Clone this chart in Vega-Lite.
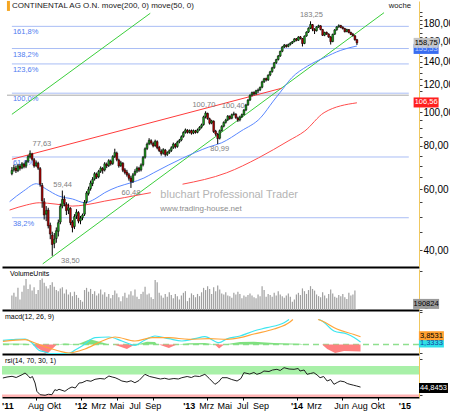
{
"$schema":"https://vega.github.io/schema/vega-lite/v6.json",
"padding":0,
"background":"#ffffff",
"spacing":2,
"bounds":"flush",
"config":{
 "font":"Liberation Sans",
 "view":{"stroke":null},
 "axisX":{"labels":false,"ticks":false,"domainColor":"#000000","domainWidth":2,"grid":false},
 "axisY":{"grid":false},
 "text":{"font":"Liberation Sans"}
},
"datasets":{
"candles":[
{"d":"2011-04-25","o":66.5,"h":69.5,"l":65.8,"c":68.0,"v":2600000},
{"d":"2011-05-02","o":68.2,"h":70.6,"l":67.4,"c":69.2,"v":3100000},
{"d":"2011-05-09","o":69.0,"h":70.2,"l":66.8,"c":67.8,"v":2400000},
{"d":"2011-05-16","o":67.9,"h":71.0,"l":67.2,"c":70.1,"v":4000000},
{"d":"2011-05-23","o":70.0,"h":70.8,"l":67.9,"c":68.9,"v":1900000},
{"d":"2011-05-30","o":69.1,"h":71.8,"l":68.5,"c":71.0,"v":3300000},
{"d":"2011-06-06","o":70.8,"h":71.5,"l":68.9,"c":69.8,"v":4400000},
{"d":"2011-06-13","o":69.9,"h":72.8,"l":69.0,"c":72.0,"v":5600000},
{"d":"2011-06-20","o":72.2,"h":75.3,"l":71.5,"c":74.5,"v":3800000},
{"d":"2011-06-27","o":74.4,"h":77.63,"l":73.6,"c":76.0,"v":4600000},
{"d":"2011-07-04","o":75.8,"h":76.4,"l":72.5,"c":73.2,"v":3500000},
{"d":"2011-07-11","o":73.0,"h":73.8,"l":69.2,"c":70.0,"v":4100000},
{"d":"2011-07-18","o":70.2,"h":72.6,"l":69.5,"c":71.5,"v":2900000},
{"d":"2011-07-25","o":71.3,"h":72.0,"l":68.2,"c":69.0,"v":3600000},
{"d":"2011-08-01","o":68.8,"h":69.5,"l":61.0,"c":62.0,"v":5400000},
{"d":"2011-08-08","o":61.5,"h":62.5,"l":53.0,"c":55.5,"v":5700000},
{"d":"2011-08-15","o":55.2,"h":56.5,"l":49.0,"c":50.5,"v":4900000},
{"d":"2011-08-22","o":50.8,"h":53.6,"l":48.5,"c":52.0,"v":4300000},
{"d":"2011-08-29","o":52.2,"h":53.0,"l":46.2,"c":47.0,"v":3900000},
{"d":"2011-09-05","o":47.2,"h":48.0,"l":43.0,"c":44.5,"v":4500000},
{"d":"2011-09-12","o":44.2,"h":45.2,"l":38.5,"c":41.5,"v":5000000},
{"d":"2011-09-19","o":41.8,"h":44.8,"l":40.5,"c":43.0,"v":4200000},
{"d":"2011-09-26","o":43.2,"h":46.5,"l":42.0,"c":45.5,"v":3600000},
{"d":"2011-10-03","o":45.3,"h":49.0,"l":43.8,"c":48.0,"v":3400000},
{"d":"2011-10-10","o":48.2,"h":54.5,"l":47.5,"c":53.5,"v":3900000},
{"d":"2011-10-17","o":53.6,"h":59.44,"l":52.8,"c":56.0,"v":4100000},
{"d":"2011-10-24","o":56.2,"h":57.5,"l":53.5,"c":54.5,"v":3000000},
{"d":"2011-10-31","o":54.3,"h":55.0,"l":50.5,"c":52.0,"v":3700000},
{"d":"2011-11-07","o":52.2,"h":54.5,"l":50.8,"c":53.0,"v":2800000},
{"d":"2011-11-14","o":52.8,"h":53.2,"l":47.2,"c":48.0,"v":3200000},
{"d":"2011-11-21","o":48.2,"h":48.8,"l":45.0,"c":46.5,"v":2500000},
{"d":"2011-11-28","o":46.8,"h":50.8,"l":46.0,"c":50.0,"v":3300000},
{"d":"2011-12-05","o":50.2,"h":52.5,"l":49.2,"c":51.5,"v":2700000},
{"d":"2011-12-12","o":51.3,"h":51.8,"l":47.8,"c":48.5,"v":2200000},
{"d":"2011-12-19","o":48.6,"h":50.2,"l":47.5,"c":49.5,"v":1800000},
{"d":"2011-12-26","o":49.6,"h":51.0,"l":48.8,"c":50.5,"v":1500000},
{"d":"2012-01-02","o":50.8,"h":55.8,"l":50.2,"c":55.0,"v":3600000},
{"d":"2012-01-09","o":55.2,"h":59.2,"l":54.5,"c":58.5,"v":4000000},
{"d":"2012-01-16","o":58.3,"h":61.0,"l":57.5,"c":60.0,"v":3300000},
{"d":"2012-01-23","o":60.2,"h":63.5,"l":59.4,"c":62.5,"v":3800000},
{"d":"2012-01-30","o":62.3,"h":65.0,"l":61.2,"c":64.0,"v":2900000},
{"d":"2012-02-06","o":64.2,"h":67.2,"l":63.5,"c":66.5,"v":3400000},
{"d":"2012-02-13","o":66.3,"h":67.0,"l":64.2,"c":65.0,"v":2600000},
{"d":"2012-02-20","o":65.2,"h":68.2,"l":64.5,"c":67.5,"v":3000000},
{"d":"2012-02-27","o":67.6,"h":69.8,"l":66.8,"c":69.0,"v":3700000},
{"d":"2012-03-05","o":68.8,"h":69.5,"l":66.5,"c":68.0,"v":2800000},
{"d":"2012-03-12","o":68.2,"h":71.8,"l":67.5,"c":71.0,"v":3200000},
{"d":"2012-03-19","o":70.8,"h":71.6,"l":69.0,"c":70.0,"v":2400000},
{"d":"2012-03-26","o":70.2,"h":73.2,"l":69.5,"c":72.5,"v":2900000},
{"d":"2012-04-02","o":72.3,"h":73.0,"l":70.2,"c":71.0,"v":2100000},
{"d":"2012-04-09","o":71.2,"h":75.2,"l":70.5,"c":74.5,"v":2700000},
{"d":"2012-04-16","o":74.6,"h":78.5,"l":73.8,"c":76.5,"v":3500000},
{"d":"2012-04-23","o":76.3,"h":77.0,"l":72.2,"c":73.0,"v":3000000},
{"d":"2012-04-30","o":72.8,"h":73.5,"l":69.2,"c":70.0,"v":2300000},
{"d":"2012-05-07","o":70.2,"h":72.4,"l":69.5,"c":71.5,"v":1600000},
{"d":"2012-05-14","o":71.3,"h":71.8,"l":67.2,"c":68.0,"v":2500000},
{"d":"2012-05-21","o":68.2,"h":69.0,"l":66.2,"c":67.0,"v":3100000},
{"d":"2012-05-28","o":67.2,"h":68.2,"l":65.2,"c":66.0,"v":2200000},
{"d":"2012-06-04","o":66.0,"h":66.8,"l":63.5,"c":64.5,"v":2800000},
{"d":"2012-06-11","o":64.6,"h":65.5,"l":60.48,"c":63.0,"v":3400000},
{"d":"2012-06-18","o":63.2,"h":66.8,"l":62.5,"c":66.0,"v":2600000},
{"d":"2012-06-25","o":66.2,"h":68.5,"l":65.5,"c":67.5,"v":3700000},
{"d":"2012-07-02","o":67.6,"h":69.8,"l":66.8,"c":69.0,"v":2400000},
{"d":"2012-07-09","o":69.0,"h":69.6,"l":67.2,"c":68.0,"v":2000000},
{"d":"2012-07-16","o":68.2,"h":71.2,"l":67.5,"c":70.5,"v":2900000},
{"d":"2012-07-23","o":70.6,"h":74.8,"l":69.8,"c":74.0,"v":3300000},
{"d":"2012-07-30","o":74.2,"h":79.2,"l":73.5,"c":78.5,"v":4200000},
{"d":"2012-08-06","o":78.6,"h":81.8,"l":77.8,"c":81.0,"v":2800000},
{"d":"2012-08-13","o":81.2,"h":84.2,"l":80.4,"c":83.0,"v":3000000},
{"d":"2012-08-20","o":82.8,"h":83.6,"l":80.6,"c":81.5,"v":2300000},
{"d":"2012-08-27","o":81.3,"h":82.2,"l":79.2,"c":80.0,"v":2000000},
{"d":"2012-09-03","o":80.2,"h":83.4,"l":79.5,"c":82.5,"v":5400000},
{"d":"2012-09-10","o":82.3,"h":83.0,"l":78.2,"c":79.0,"v":5000000},
{"d":"2012-09-17","o":79.2,"h":80.0,"l":76.8,"c":77.5,"v":3100000},
{"d":"2012-09-24","o":77.3,"h":78.2,"l":75.0,"c":76.0,"v":2600000},
{"d":"2012-10-01","o":76.2,"h":78.8,"l":75.5,"c":78.0,"v":2200000},
{"d":"2012-10-08","o":77.8,"h":78.4,"l":74.5,"c":75.5,"v":2900000},
{"d":"2012-10-15","o":75.6,"h":77.2,"l":74.8,"c":76.5,"v":2400000},
{"d":"2012-10-22","o":76.6,"h":78.2,"l":75.8,"c":77.5,"v":3200000},
{"d":"2012-10-29","o":77.6,"h":79.8,"l":76.8,"c":79.0,"v":2700000},
{"d":"2012-11-05","o":79.2,"h":81.8,"l":78.4,"c":81.0,"v":2100000},
{"d":"2012-11-12","o":80.8,"h":81.5,"l":78.6,"c":79.5,"v":2900000},
{"d":"2012-11-19","o":79.7,"h":82.8,"l":79.0,"c":82.0,"v":2500000},
{"d":"2012-11-26","o":82.2,"h":83.8,"l":81.4,"c":83.0,"v":1900000},
{"d":"2012-12-03","o":83.2,"h":85.8,"l":82.5,"c":85.0,"v":2600000},
{"d":"2012-12-10","o":85.2,"h":88.2,"l":84.5,"c":87.5,"v":3100000},
{"d":"2012-12-17","o":87.6,"h":89.8,"l":86.8,"c":89.0,"v":3400000},
{"d":"2012-12-24","o":88.8,"h":89.4,"l":86.8,"c":87.5,"v":1600000},
{"d":"2012-12-31","o":87.6,"h":89.2,"l":86.9,"c":88.5,"v":2200000},
{"d":"2013-01-07","o":88.6,"h":89.2,"l":86.2,"c":87.0,"v":3000000},
{"d":"2013-01-14","o":87.2,"h":89.2,"l":86.5,"c":88.5,"v":2700000},
{"d":"2013-01-21","o":88.4,"h":89.0,"l":86.8,"c":87.5,"v":2300000},
{"d":"2013-01-28","o":87.6,"h":89.8,"l":87.0,"c":89.0,"v":2900000},
{"d":"2013-02-04","o":89.2,"h":91.2,"l":88.5,"c":90.5,"v":2500000},
{"d":"2013-02-11","o":90.6,"h":92.8,"l":89.8,"c":92.0,"v":3200000},
{"d":"2013-02-18","o":92.2,"h":97.8,"l":91.5,"c":97.0,"v":4000000},
{"d":"2013-02-25","o":97.2,"h":100.7,"l":96.0,"c":99.5,"v":3600000},
{"d":"2013-03-04","o":99.3,"h":99.8,"l":95.2,"c":96.0,"v":4300000},
{"d":"2013-03-11","o":95.8,"h":96.5,"l":92.2,"c":93.0,"v":3800000},
{"d":"2013-03-18","o":93.2,"h":95.2,"l":92.4,"c":94.5,"v":2900000},
{"d":"2013-03-25","o":94.3,"h":94.8,"l":87.2,"c":88.0,"v":4100000},
{"d":"2013-04-01","o":88.2,"h":89.0,"l":85.5,"c":86.5,"v":3400000},
{"d":"2013-04-08","o":86.3,"h":87.2,"l":80.99,"c":84.0,"v":4400000},
{"d":"2013-04-15","o":84.2,"h":89.2,"l":83.5,"c":88.5,"v":3700000},
{"d":"2013-04-22","o":88.6,"h":91.8,"l":88.0,"c":91.0,"v":3000000},
{"d":"2013-04-29","o":91.2,"h":94.2,"l":90.5,"c":93.5,"v":2800000},
{"d":"2013-05-06","o":93.6,"h":95.8,"l":92.8,"c":95.0,"v":3200000},
{"d":"2013-05-13","o":95.2,"h":98.2,"l":94.4,"c":97.5,"v":2600000},
{"d":"2013-05-20","o":97.4,"h":98.0,"l":95.2,"c":96.0,"v":2500000},
{"d":"2013-05-27","o":96.2,"h":99.2,"l":95.5,"c":98.5,"v":2200000},
{"d":"2013-06-03","o":98.6,"h":100.4,"l":97.8,"c":99.0,"v":3100000},
{"d":"2013-06-10","o":98.8,"h":99.4,"l":95.8,"c":96.5,"v":2800000},
{"d":"2013-06-17","o":96.3,"h":97.2,"l":93.8,"c":95.0,"v":3300000},
{"d":"2013-06-24","o":95.2,"h":97.8,"l":94.2,"c":97.0,"v":2900000},
{"d":"2013-07-01","o":97.2,"h":99.2,"l":96.4,"c":98.5,"v":2100000},
{"d":"2013-07-08","o":98.6,"h":102.2,"l":98.0,"c":101.5,"v":2600000},
{"d":"2013-07-15","o":101.6,"h":105.8,"l":100.8,"c":105.0,"v":2400000},
{"d":"2013-07-22","o":105.2,"h":109.2,"l":104.4,"c":108.5,"v":2700000},
{"d":"2013-07-29","o":108.6,"h":112.8,"l":107.8,"c":112.0,"v":3000000},
{"d":"2013-08-05","o":112.2,"h":114.8,"l":111.2,"c":114.0,"v":2600000},
{"d":"2013-08-12","o":114.2,"h":115.0,"l":112.0,"c":113.0,"v":2300000},
{"d":"2013-08-19","o":113.2,"h":116.2,"l":112.4,"c":115.5,"v":2100000},
{"d":"2013-08-26","o":115.4,"h":117.2,"l":113.8,"c":116.0,"v":2800000},
{"d":"2013-09-02","o":116.2,"h":118.8,"l":115.2,"c":118.0,"v":2500000},
{"d":"2013-09-09","o":118.2,"h":123.4,"l":117.4,"c":122.5,"v":4300000},
{"d":"2013-09-16","o":122.6,"h":125.8,"l":121.6,"c":125.0,"v":3600000},
{"d":"2013-09-23","o":125.2,"h":126.0,"l":122.8,"c":124.0,"v":2400000},
{"d":"2013-09-30","o":124.2,"h":128.8,"l":123.2,"c":128.0,"v":2900000},
{"d":"2013-10-07","o":128.2,"h":131.8,"l":127.2,"c":131.0,"v":2700000},
{"d":"2013-10-14","o":131.2,"h":135.4,"l":130.2,"c":134.5,"v":2400000},
{"d":"2013-10-21","o":134.6,"h":139.8,"l":133.6,"c":139.0,"v":3100000},
{"d":"2013-10-28","o":139.2,"h":142.8,"l":138.0,"c":142.0,"v":2600000},
{"d":"2013-11-04","o":142.2,"h":146.4,"l":141.2,"c":145.5,"v":3400000},
{"d":"2013-11-11","o":145.6,"h":150.8,"l":144.6,"c":150.0,"v":2800000},
{"d":"2013-11-18","o":150.2,"h":155.4,"l":149.2,"c":154.5,"v":2500000},
{"d":"2013-11-25","o":154.6,"h":157.6,"l":153.4,"c":156.5,"v":2200000},
{"d":"2013-12-02","o":156.4,"h":157.2,"l":153.8,"c":155.0,"v":2600000},
{"d":"2013-12-09","o":155.2,"h":158.0,"l":154.2,"c":157.0,"v":3000000},
{"d":"2013-12-16","o":157.2,"h":159.4,"l":156.0,"c":158.5,"v":2400000},
{"d":"2013-12-23","o":158.6,"h":160.8,"l":157.6,"c":160.0,"v":1500000},
{"d":"2013-12-30","o":160.2,"h":163.8,"l":159.4,"c":163.0,"v":1900000},
{"d":"2014-01-06","o":163.2,"h":164.0,"l":160.4,"c":161.5,"v":2800000},
{"d":"2014-01-13","o":161.6,"h":166.0,"l":160.8,"c":165.0,"v":3100000},
{"d":"2014-01-20","o":165.2,"h":166.2,"l":162.4,"c":163.5,"v":2700000},
{"d":"2014-01-27","o":163.4,"h":164.0,"l":155.0,"c":158.0,"v":3900000},
{"d":"2014-02-03","o":158.2,"h":166.8,"l":157.4,"c":166.0,"v":3400000},
{"d":"2014-02-10","o":166.2,"h":171.4,"l":165.4,"c":170.5,"v":2900000},
{"d":"2014-02-17","o":170.6,"h":176.0,"l":169.6,"c":175.0,"v":3600000},
{"d":"2014-02-24","o":175.2,"h":183.25,"l":174.2,"c":179.5,"v":4300000},
{"d":"2014-03-03","o":179.2,"h":180.0,"l":171.6,"c":174.0,"v":3800000},
{"d":"2014-03-10","o":173.8,"h":175.0,"l":168.4,"c":172.0,"v":3500000},
{"d":"2014-03-17","o":172.2,"h":177.4,"l":171.2,"c":176.5,"v":2800000},
{"d":"2014-03-24","o":176.6,"h":179.2,"l":175.4,"c":178.0,"v":2500000},
{"d":"2014-03-31","o":177.8,"h":178.6,"l":172.6,"c":173.5,"v":2300000},
{"d":"2014-04-07","o":173.4,"h":174.2,"l":166.2,"c":167.0,"v":3200000},
{"d":"2014-04-14","o":167.2,"h":171.0,"l":166.0,"c":170.0,"v":2600000},
{"d":"2014-04-21","o":170.2,"h":171.2,"l":167.4,"c":168.5,"v":2100000},
{"d":"2014-04-28","o":168.4,"h":169.2,"l":164.2,"c":165.0,"v":2900000},
{"d":"2014-05-05","o":165.2,"h":166.0,"l":157.0,"c":160.0,"v":3700000},
{"d":"2014-05-12","o":160.2,"h":168.8,"l":159.4,"c":168.0,"v":3000000},
{"d":"2014-05-19","o":168.2,"h":174.0,"l":167.4,"c":173.0,"v":2400000},
{"d":"2014-05-26","o":173.2,"h":177.4,"l":172.2,"c":176.5,"v":2200000},
{"d":"2014-06-02","o":176.6,"h":179.6,"l":175.6,"c":178.0,"v":2700000},
{"d":"2014-06-09","o":178.2,"h":179.0,"l":175.0,"c":176.0,"v":2500000},
{"d":"2014-06-16","o":176.2,"h":177.2,"l":173.6,"c":174.5,"v":2900000},
{"d":"2014-06-23","o":174.6,"h":175.4,"l":170.2,"c":171.0,"v":2300000},
{"d":"2014-06-30","o":171.2,"h":174.4,"l":170.4,"c":173.5,"v":2000000},
{"d":"2014-07-07","o":173.4,"h":174.0,"l":169.2,"c":170.0,"v":3100000},
{"d":"2014-07-14","o":170.2,"h":171.0,"l":167.2,"c":168.0,"v":2600000},
{"d":"2014-07-21","o":168.2,"h":169.6,"l":165.6,"c":166.5,"v":2800000},
{"d":"2014-07-28","o":166.4,"h":167.2,"l":161.2,"c":162.0,"v":3500000},
{"d":"2014-08-04","o":162.2,"h":163.0,"l":156.5,"c":158.75,"v":190824}
],
"ma":[
{"k":"ma200","s":"r1","d":"2011-04-17","p":52.2},
{"k":"ma200","s":"r1","d":"2011-06-15","p":54.0},
{"k":"ma200","s":"r1","d":"2011-07-29","p":54.8},
{"k":"ma200","s":"r1","d":"2011-09-25","p":54.3},
{"k":"ma200","s":"r1","d":"2011-11-21","p":53.6},
{"k":"ma200","s":"r1","d":"2012-01-04","p":54.0},
{"k":"ma200","s":"r1","d":"2012-03-12","p":55.4},
{"k":"ma200","s":"r1","d":"2012-05-19","p":56.7},
{"k":"ma200","s":"r1","d":"2012-07-26","p":58.1},
{"k":"ma200","s":"r1","d":"2012-08-19","p":58.6},
{"k":"ma200","s":"r2","d":"2012-12-07","p":62.0},
{"k":"ma200","s":"r2","d":"2013-05-09","p":66.9},
{"k":"ma200","s":"r2","d":"2013-08-28","p":73.9},
{"k":"ma200","s":"r2","d":"2013-12-08","p":82.6},
{"k":"ma200","s":"r2","d":"2014-02-04","p":88.3},
{"k":"ma200","s":"r2","d":"2014-04-12","p":99.8},
{"k":"ma200","s":"r2","d":"2014-08-04","p":106.56},
{"k":"ma50","s":"b1","d":"2011-04-17","p":55.2},
{"k":"ma50","s":"b1","d":"2011-06-05","p":59.3},
{"k":"ma50","s":"b1","d":"2011-07-19","p":62.2},
{"k":"ma50","s":"b1","d":"2011-08-22","p":60.0},
{"k":"ma50","s":"b1","d":"2011-10-05","p":57.3},
{"k":"ma50","s":"b1","d":"2011-11-21","p":56.2},
{"k":"ma50","s":"b1","d":"2012-01-04","p":54.8},
{"k":"ma50","s":"b1","d":"2012-02-07","p":56.2},
{"k":"ma50","s":"b1","d":"2012-03-12","p":58.6},
{"k":"ma50","s":"b1","d":"2012-04-25","p":60.9},
{"k":"ma50","s":"b1","d":"2012-06-11","p":62.6},
{"k":"ma50","s":"b1","d":"2012-07-26","p":64.6},
{"k":"ma50","s":"b1","d":"2012-08-29","p":66.9},
{"k":"ma50","s":"b1","d":"2012-12-07","p":73.7},
{"k":"ma50","s":"b1","d":"2013-03-08","p":79.4},
{"k":"ma50","s":"b1","d":"2013-04-22","p":81.7},
{"k":"ma50","s":"b1","d":"2013-06-28","p":88.3},
{"k":"ma50","s":"b1","d":"2013-09-04","p":96.5},
{"k":"ma50","s":"b1","d":"2013-10-18","p":107.8},
{"k":"ma50","s":"b1","d":"2013-11-10","p":114.0},
{"k":"ma50","s":"b1","d":"2013-12-21","p":125.9},
{"k":"ma50","s":"b1","d":"2014-02-14","p":136.1},
{"k":"ma50","s":"b1","d":"2014-04-12","p":143.8},
{"k":"ma50","s":"b1","d":"2014-06-09","p":151.1},
{"k":"ma50","s":"b1","d":"2014-08-04","p":155.5}
],
"trend":[
{"k":"g1","d":"2011-08-10","p":36.5},
{"k":"g1","d":"2014-11-06","p":194.1},
{"k":"g2","d":"2011-04-25","p":98.7},
{"k":"g2","d":"2012-08-17","p":193.3},
{"k":"r1","d":"2011-04-25","p":73.2},
{"k":"r1","d":"2013-11-16","p":117.4}
],
"fib":[
{"t":"161,8%","p":177.2},
{"t":"138,2%","p":152.9},
{"t":"123,6%","p":138.0},
{"t":"100,0%","p":113.6},
{"t":"61,8%","p":74.3},
{"t":"38,2%","p":49.6}
],
"hi":[
{"t":"77,63","d":"2011-08-07","p":77.63},
{"t":"59,44","d":"2011-10-18","p":59.44},
{"t":"100,70","d":"2013-02-19","p":100.7},
{"t":"100,40","d":"2013-06-01","p":100.4},
{"t":"183,25","d":"2014-02-27","p":183.25}
],
"lo":[
{"t":"38,50","d":"2011-11-14","p":38.5},
{"t":"60,48","d":"2012-06-11","p":60.48},
{"t":"80,99","d":"2013-04-15","p":80.99}
],
"ptags":[
{"t":"106,56","v":106.8,"k":"ma200"},
{"t":"155,53","v":152.5,"k":"ma50"},
{"t":"158,75","v":158.75,"k":"last"}
],
"macd":[
{"k":"macd","s":"m1","d":"2011-04-11","v":2.1},
{"k":"macd","s":"m1","d":"2011-05-12","v":2.4},
{"k":"macd","s":"m1","d":"2011-06-25","v":2.75},
{"k":"macd","s":"m1","d":"2011-07-19","v":0.75},
{"k":"macd","s":"m1","d":"2011-08-11","v":-2.9},
{"k":"macd","s":"m1","d":"2011-09-01","v":-3.75},
{"k":"macd","s":"m1","d":"2011-09-14","v":-4.5},
{"k":"macd","s":"m1","d":"2011-10-18","v":-4.6},
{"k":"macd","s":"m1","d":"2011-11-21","v":-4.4},
{"k":"macd","s":"m1","d":"2011-12-10","v":-2.9},
{"k":"macd","s":"m1","d":"2012-01-04","v":-0.75},
{"k":"macd","s":"m1","d":"2012-02-17","v":3.4},
{"k":"macd","s":"m1","d":"2012-04-04","v":3.75},
{"k":"macd","s":"m1","d":"2012-05-18","v":1.75},
{"k":"macd","s":"m1","d":"2012-07-01","v":-0.4},
{"k":"macd","s":"m1","d":"2012-08-04","v":2.25},
{"k":"macd","s":"m1","d":"2012-09-07","v":4.25},
{"k":"macd","s":"m1","d":"2012-10-24","v":2.9},
{"k":"macd","s":"m1","d":"2012-12-07","v":1.75},
{"k":"macd","s":"m1","d":"2013-01-20","v":2.9},
{"k":"macd","s":"m1","d":"2013-02-23","v":3.9},
{"k":"macd","s":"m1","d":"2013-04-12","v":0.9},
{"k":"macd","s":"m1","d":"2013-05-09","v":2.9},
{"k":"macd","s":"m1","d":"2013-06-22","v":4.25},
{"k":"macd","s":"m1","d":"2013-08-08","v":6.75},
{"k":"macd","s":"m1","d":"2013-09-21","v":8.4},
{"k":"macd","s":"m1","d":"2013-11-18","v":10.9},
{"k":"macd","s":"m1","d":"2013-12-05","v":12.5},
{"k":"macd","s":"m2","d":"2014-03-16","v":12.5},
{"k":"macd","s":"m2","d":"2014-03-27","v":11.75},
{"k":"macd","s":"m2","d":"2014-05-06","v":6.75},
{"k":"macd","s":"m2","d":"2014-06-19","v":5.25},
{"k":"macd","s":"m2","d":"2014-07-13","v":3.5},
{"k":"macd","s":"m2","d":"2014-08-04","v":1.3},
{"k":"sig","s":"s1","d":"2011-04-11","v":1.6},
{"k":"sig","s":"s1","d":"2011-06-25","v":2.4},
{"k":"sig","s":"s1","d":"2011-07-29","v":0.75},
{"k":"sig","s":"s1","d":"2011-09-14","v":-1.75},
{"k":"sig","s":"s1","d":"2011-10-18","v":-3.25},
{"k":"sig","s":"s1","d":"2011-11-21","v":-4.25},
{"k":"sig","s":"s1","d":"2012-01-14","v":-2.25},
{"k":"sig","s":"s1","d":"2012-03-12","v":1.75},
{"k":"sig","s":"s1","d":"2012-04-25","v":3.75},
{"k":"sig","s":"s1","d":"2012-07-01","v":1.75},
{"k":"sig","s":"s1","d":"2012-08-28","v":3.4},
{"k":"sig","s":"s1","d":"2012-10-24","v":3.4},
{"k":"sig","s":"s1","d":"2012-12-31","v":2.6},
{"k":"sig","s":"s1","d":"2013-03-09","v":2.9},
{"k":"sig","s":"s1","d":"2013-05-09","v":2.6},
{"k":"sig","s":"s1","d":"2013-06-22","v":3.4},
{"k":"sig","s":"s1","d":"2013-08-08","v":5.25},
{"k":"sig","s":"s1","d":"2013-10-15","v":7.75},
{"k":"sig","s":"s1","d":"2013-12-08","v":11.25},
{"k":"sig","s":"s1","d":"2013-12-18","v":12.5},
{"k":"sig","s":"s2","d":"2014-03-13","v":12.5},
{"k":"sig","s":"s2","d":"2014-03-27","v":11.75},
{"k":"sig","s":"s2","d":"2014-05-16","v":7.75},
{"k":"sig","s":"s2","d":"2014-07-13","v":5.0},
{"k":"sig","s":"s2","d":"2014-08-04","v":3.85}
],
"hist":[
{"s":"h1","g":"pos","d":"2011-04-11","h":0.5},
{"s":"h1","g":"pos","d":"2011-06-25","h":0.35},
{"s":"h1","g":"pos","d":"2011-07-19","h":0},
{"s":"h2","g":"neg","d":"2011-07-19","h":0},
{"s":"h2","g":"neg","d":"2011-09-07","h":-4.75},
{"s":"h2","g":"neg","d":"2011-10-11","h":0},
{"s":"h3","g":"pos","d":"2011-10-11","h":0},
{"s":"h3","g":"pos","d":"2011-11-07","h":0.5},
{"s":"h3","g":"pos","d":"2011-12-18","h":0},
{"s":"h4","g":"pos","d":"2011-12-18","h":0},
{"s":"h4","g":"pos","d":"2012-01-31","h":2.6},
{"s":"h4","g":"pos","d":"2012-03-12","h":1.0},
{"s":"h4","g":"pos","d":"2012-04-04","h":0},
{"s":"h5","g":"neg","d":"2012-04-21","h":0},
{"s":"h5","g":"neg","d":"2012-06-04","h":-2.2},
{"s":"h5","g":"neg","d":"2012-07-01","h":0},
{"s":"h6","g":"pos","d":"2012-07-08","h":0},
{"s":"h6","g":"pos","d":"2012-08-11","h":1.4},
{"s":"h6","g":"pos","d":"2012-09-07","h":1.2},
{"s":"h6","g":"pos","d":"2012-09-14","h":0},
{"s":"h7","g":"neg","d":"2012-09-20","h":0},
{"s":"h7","g":"neg","d":"2012-10-24","h":-1.8},
{"s":"h7","g":"neg","d":"2012-11-20","h":0},
{"s":"h8","g":"pos","d":"2012-11-20","h":0},
{"s":"h8","g":"pos","d":"2012-12-31","h":0.6},
{"s":"h8","g":"pos","d":"2013-02-23","h":0.8},
{"s":"h8","g":"pos","d":"2013-03-29","h":0},
{"s":"h9","g":"neg","d":"2013-03-29","h":0},
{"s":"h9","g":"neg","d":"2013-04-12","h":-2.0},
{"s":"h9","g":"neg","d":"2013-04-29","h":0},
{"s":"h10","g":"pos","d":"2013-04-29","h":0},
{"s":"h10","g":"pos","d":"2013-06-22","h":1.2},
{"s":"h10","g":"pos","d":"2013-08-08","h":1.4},
{"s":"h10","g":"pos","d":"2013-10-15","h":0.8},
{"s":"h10","g":"pos","d":"2013-12-08","h":0.5},
{"s":"h10","g":"pos","d":"2014-01-11","h":0.4},
{"s":"h10","g":"pos","d":"2014-01-25","h":0},
{"s":"h11","g":"neg","d":"2014-03-27","h":0},
{"s":"h11","g":"neg","d":"2014-04-13","h":-2.2},
{"s":"h11","g":"neg","d":"2014-05-10","h":-4.2},
{"s":"h11","g":"neg","d":"2014-06-09","h":-3.2},
{"s":"h11","g":"neg","d":"2014-08-04","h":-3.5}
],
"rsi":[
{"d":"2011-04-11","r":63},{"d":"2011-04-25","r":65},{"d":"2011-05-12","r":66.4},{"d":"2011-05-26","r":64},
{"d":"2011-06-15","r":69.6},{"d":"2011-06-25","r":73},{"d":"2011-07-05","r":68},{"d":"2011-07-12","r":63},
{"d":"2011-07-20","r":66},{"d":"2011-07-29","r":53},{"d":"2011-08-04","r":36.4},{"d":"2011-08-15","r":29.6},
{"d":"2011-09-01","r":28.4},{"d":"2011-09-12","r":30.5},{"d":"2011-09-24","r":29.6},{"d":"2011-10-04","r":39.6},
{"d":"2011-10-11","r":38},{"d":"2011-10-18","r":40.5},{"d":"2011-11-07","r":36.4},{"d":"2011-11-20","r":42},
{"d":"2011-12-01","r":45},{"d":"2011-12-12","r":43},{"d":"2011-12-25","r":53},{"d":"2012-01-04","r":53.6},
{"d":"2012-01-20","r":58},{"d":"2012-02-03","r":56.5},{"d":"2012-02-17","r":60.4},{"d":"2012-03-05","r":62},
{"d":"2012-03-20","r":61},{"d":"2012-04-04","r":67},{"d":"2012-04-15","r":65},{"d":"2012-04-25","r":63.6},
{"d":"2012-05-05","r":61},{"d":"2012-05-18","r":57},{"d":"2012-06-04","r":55},{"d":"2012-06-18","r":57.5},
{"d":"2012-07-01","r":53.6},{"d":"2012-07-15","r":58},{"d":"2012-08-04","r":70.4},{"d":"2012-08-20","r":66},
{"d":"2012-09-07","r":63.6},{"d":"2012-09-25","r":61},{"d":"2012-10-10","r":62.5},{"d":"2012-10-24","r":60.4},
{"d":"2012-11-10","r":62},{"d":"2012-11-25","r":61},{"d":"2012-12-07","r":63.6},{"d":"2012-12-25","r":66},
{"d":"2013-01-08","r":64},{"d":"2013-01-20","r":67},{"d":"2013-02-05","r":66},{"d":"2013-02-23","r":70.4},
{"d":"2013-03-10","r":62},{"d":"2013-03-29","r":50.4},{"d":"2013-04-10","r":55},{"d":"2013-04-22","r":63.6},
{"d":"2013-05-09","r":63.6},{"d":"2013-05-25","r":60},{"d":"2013-06-12","r":57},{"d":"2013-06-25","r":62},
{"d":"2013-07-05","r":73.6},{"d":"2013-07-25","r":71},{"d":"2013-08-08","r":74},{"d":"2013-08-18","r":70.4},
{"d":"2013-09-01","r":73},{"d":"2013-09-11","r":77},{"d":"2013-09-28","r":76},{"d":"2013-10-10","r":79},
{"d":"2013-10-25","r":80.4},{"d":"2013-11-05","r":78},{"d":"2013-11-18","r":83.6},{"d":"2013-12-05","r":81},
{"d":"2013-12-22","r":80.4},{"d":"2014-01-05","r":82},{"d":"2014-01-11","r":77},{"d":"2014-01-25","r":79},
{"d":"2014-02-04","r":70.4},{"d":"2014-02-15","r":72},{"d":"2014-02-27","r":73.6},{"d":"2014-03-10","r":69},
{"d":"2014-03-20","r":63.6},{"d":"2014-04-01","r":66},{"d":"2014-04-13","r":57},{"d":"2014-04-25","r":60},
{"d":"2014-05-06","r":50.4},{"d":"2014-05-17","r":54},{"d":"2014-05-27","r":57},{"d":"2014-06-10","r":55.5},
{"d":"2014-06-20","r":52},{"d":"2014-06-29","r":50.4},{"d":"2014-07-12","r":48.5},{"d":"2014-07-22","r":47},
{"d":"2014-08-04","r":44.85}
],
"xmonths":[
{"d":"2011-08-01","t":"Aug"},{"d":"2011-10-01","t":"Okt"},
{"d":"2012-03-01","t":"Mrz"},{"d":"2012-05-01","t":"Mai"},{"d":"2012-07-01","t":"Jul"},{"d":"2012-09-01","t":"Sep"},
{"d":"2013-03-01","t":"Mrz"},{"d":"2013-05-01","t":"Mai"},{"d":"2013-07-01","t":"Jul"},{"d":"2013-09-01","t":"Sep"},
{"d":"2014-03-01","t":"Mrz"},{"d":"2014-06-01","t":"Jun"},{"d":"2014-08-01","t":"Aug"},{"d":"2014-10-01","t":"Okt"}
],
"xyears":[
{"d":"2012-01-01","t":"'12"},{"d":"2013-01-01","t":"'13"},{"d":"2014-01-01","t":"'14"},{"d":"2015-01-01","t":"'15"}
]
},
"vconcat":[
{
"width":417,"height":266,
"layer":[
{"data":{"name":"fib"},"mark":{"type":"rule","color":"#a9bdf5","strokeWidth":1},
 "encoding":{
  "x":{"datum":{"year":2011,"month":4,"date":25,"utc":true},"type":"temporal","scale":{"domain":[{"year":2011,"month":4,"date":8,"utc":true},{"year":2015,"month":2,"date":18,"utc":true}],"nice":false},"axis":{"title":null}},
  "x2":{"datum":{"year":2015,"month":1,"date":31,"utc":true}},
  "y":{"field":"p","type":"quantitative","scale":{"type":"log","domain":[35.74,209.76],"nice":false},
   "axis":{"orient":"right","title":null,"values":[40,45,50,55,60,65,70,75,80,85,90,95,100,105,110,115,120,125,130,135,140,145,150,155,160,165,170,175,180,185,190,195],"labelExpr":"datum.value % 20 == 0 && datum.value <= 180 ? replace(format(datum.value, '.2f'), '.', ',') : ''","domainColor":"#f0c860","tickColor":"#404040","tickSize":3,"labelFontSize":10,"labelColor":"#000000","labelPadding":1,"grid":false,"labelOverlap":false}}}},
{"data":{"values":[{"p":112.1}]},"mark":{"type":"rule","color":"#a8a8a8","strokeWidth":1},
 "encoding":{
  "x":{"datum":{"year":2011,"month":4,"date":8,"utc":true},"type":"temporal"},
  "x2":{"datum":{"year":2015,"month":1,"date":31,"utc":true}},
  "y":{"field":"p","type":"quantitative","title":null}}},
{"data":{"name":"fib"},"mark":{"type":"text","align":"left","baseline":"top","dx":1,"dy":2,"fontSize":7.5,"color":"#4f7cf0"},
 "encoding":{
  "x":{"datum":{"year":2011,"month":4,"date":25,"utc":true},"type":"temporal"},
  "y":{"field":"p","type":"quantitative","title":null},
  "text":{"field":"t"}}},
{"data":{"name":"trend"},"mark":{"type":"line","strokeWidth":1,"clip":true},
 "encoding":{
  "x":{"field":"d","type":"temporal","title":null},
  "y":{"field":"p","type":"quantitative","title":null},
  "detail":{"field":"k"},
  "color":{"condition":{"test":"datum.k == 'r1'","value":"#ff3b3b"},"value":"#3ccf3c"}}},
{"data":{"name":"ma"},"mark":{"type":"line","strokeWidth":1,"interpolate":"monotone"},
 "encoding":{
  "x":{"field":"d","type":"temporal","title":null},
  "y":{"field":"p","type":"quantitative","title":null},
  "detail":{"field":"s"},
  "color":{"condition":{"test":"datum.k == 'ma200'","value":"#ff4d4d"},"value":"#5a88ff"}}},
{"data":{"values":[{"t":"bluchart Professional Trader"}]},"mark":{"type":"text","align":"left","baseline":"middle","fontSize":11,"color":"#b4b4b4"},
 "encoding":{
  "x":{"datum":{"year":2012,"month":9,"date":21,"utc":true},"type":"temporal"},
  "y":{"datum":57.7,"type":"quantitative"},
  "text":{"field":"t"}}},
{"data":{"values":[{"t":"www.trading-house.net"}]},"mark":{"type":"text","align":"left","baseline":"middle","fontSize":8,"color":"#8c8c8c"},
 "encoding":{
  "x":{"datum":{"year":2012,"month":9,"date":21,"utc":true},"type":"temporal"},
  "y":{"datum":52.7,"type":"quantitative"},
  "text":{"field":"t"}}},
{"data":{"name":"hi"},"mark":{"type":"text","baseline":"bottom","dy":-2,"fontSize":7.5,"color":"#808080"},
 "encoding":{
  "x":{"field":"d","type":"temporal","title":null},
  "y":{"field":"p","type":"quantitative","title":null},
  "text":{"field":"t"}}},
{"data":{"name":"lo"},"mark":{"type":"text","baseline":"top","dy":1,"fontSize":7.5,"color":"#808080"},
 "encoding":{
  "x":{"field":"d","type":"temporal","title":null},
  "y":{"field":"p","type":"quantitative","title":null},
  "text":{"field":"t"}}},
{"data":{"name":"candles"},"mark":{"type":"rule","color":"#000000","strokeWidth":1},
 "encoding":{
  "x":{"field":"d","type":"temporal","title":null},
  "y":{"field":"l","type":"quantitative","title":null},
  "y2":{"field":"h"}}},
{"data":{"name":"candles"},"mark":{"type":"bar","width":1.8,"stroke":"#000000","strokeWidth":0.5,"opacity":1},
 "encoding":{
  "x":{"field":"d","type":"temporal","title":null},
  "y":{"field":"o","type":"quantitative","title":null},
  "y2":{"field":"c"},
  "fill":{"condition":{"test":"datum.c >= datum.o","value":"#1fa51f"},"value":"#b30000"}}},
{"data":{"values":[{"t":"CONTINENTAL AG O.N. move(200, 0) move(50, 0)"}]},"mark":{"type":"text","align":"left","baseline":"top","dx":5,"dy":1,"fontSize":8,"color":"#202020"},
 "encoding":{
  "x":{"datum":{"year":2011,"month":4,"date":8,"utc":true},"type":"temporal"},
  "y":{"datum":209.76,"type":"quantitative"},
  "text":{"field":"t"}}},
{"data":{"values":[{"m":"marker"}]},"mark":{"type":"tick","orient":"horizontal","size":3,"thickness":10,"color":"#f5a623","opacity":1},
 "encoding":{
  "x":{"datum":{"year":2011,"month":4,"date":13,"utc":true},"type":"temporal"},
  "y":{"datum":203,"type":"quantitative"}}},
{"data":{"values":[{"t":"woche"}]},"mark":{"type":"text","align":"right","baseline":"top","dx":-3,"dy":1,"fontSize":7.7,"color":"#202020"},
 "encoding":{
  "x":{"datum":{"year":2015,"month":2,"date":18,"utc":true},"type":"temporal"},
  "y":{"datum":209.76,"type":"quantitative"},
  "text":{"field":"t"}}},
{"data":{"name":"ptags"},"mark":{"type":"tick","orient":"horizontal","size":25,"thickness":10,"opacity":1},
 "encoding":{
  "x":{"datum":{"year":2015,"month":4,"date":1,"utc":true},"type":"temporal"},
  "y":{"field":"v","type":"quantitative","title":null},
  "color":{"condition":[{"test":"datum.k == 'ma200'","value":"#ff1f1f"},{"test":"datum.k == 'ma50'","value":"#3a6df0"}],"value":"#c4c4c4"}}},
{"data":{"name":"ptags"},"mark":{"type":"text","align":"center","baseline":"middle","fontSize":7.5},
 "encoding":{
  "x":{"datum":{"year":2015,"month":4,"date":1,"utc":true},"type":"temporal"},
  "y":{"field":"v","type":"quantitative","title":null},
  "text":{"field":"t"},
  "color":{"condition":[{"test":"datum.k == 'ma200'","value":"#ffffff"},{"test":"datum.k == 'ma50'","value":"#bcd0ff"}],"value":"#000000"}}}
]
},
{
"width":417,"height":41,
"layer":[
{"data":{"name":"candles"},"mark":{"type":"bar","width":1.2,"color":"#a0a0a0","opacity":1},
 "encoding":{
  "x":{"field":"d","type":"temporal","scale":{"domain":[{"year":2011,"month":4,"date":8,"utc":true},{"year":2015,"month":2,"date":18,"utc":true}],"nice":false},"axis":{"title":null}},
  "y":{"field":"v","type":"quantitative","scale":{"domain":[0,7400000],"nice":false},
   "axis":{"orient":"right","title":null,"values":[0,1000000,2000000,3000000,4000000,5000000,6000000,7000000],"labelExpr":"datum.value == 5000000 ? '5000000' : datum.value == 0 ? '0' : ''","domainColor":"#f0c860","tickColor":"#404040","tickSize":3,"labelFontSize":10,"labelColor":"#000000","labelPadding":1,"labelFlush":true,"grid":false,"labelOverlap":false}}}},
{"data":{"values":[{"t":"VolumeUnits"}]},"mark":{"type":"text","align":"left","baseline":"top","dx":3,"dy":1,"fontSize":7,"color":"#000000"},
 "encoding":{
  "x":{"datum":{"year":2011,"month":4,"date":8,"utc":true},"type":"temporal"},
  "y":{"datum":7400000,"type":"quantitative"},
  "text":{"field":"t"}}},
{"data":{"values":[{"t":"190824"}]},"mark":{"type":"tick","orient":"horizontal","size":26,"thickness":10,"color":"#9a9a9a","opacity":1},
 "encoding":{
  "x":{"datum":{"year":2015,"month":4,"date":1,"utc":true},"type":"temporal"},
  "y":{"datum":1100000,"type":"quantitative"}}},
{"data":{"values":[{"t":"190824"}]},"mark":{"type":"text","align":"center","baseline":"middle","fontSize":7.5,"color":"#000000"},
 "encoding":{
  "x":{"datum":{"year":2015,"month":4,"date":1,"utc":true},"type":"temporal"},
  "y":{"datum":1100000,"type":"quantitative"},
  "text":{"field":"t"}}}
]
},
{
"width":417,"height":42,
"layer":[
{"data":{"values":[{}]},"mark":{"type":"rule","color":"#8fe08f","strokeWidth":1.5,"strokeDash":[6,4]},
 "encoding":{
  "y":{"datum":0,"type":"quantitative","scale":{"domain":[-4.75,16.25],"nice":false,"zero":false},
   "axis":{"orient":"right","title":null,"values":[-4,-2,0,2,4,6,8,10,12,14,16],"labelExpr":"datum.value == 10 ? '10,0000' : datum.value == 0 ? '0' : ''","domainColor":"#f0c860","tickColor":"#404040","tickSize":3,"labelFontSize":10,"labelColor":"#000000","labelPadding":1,"grid":false,"labelOverlap":false}}}},
{"data":{"name":"hist"},"mark":{"type":"area","opacity":1},
 "encoding":{
  "x":{"field":"d","type":"temporal","scale":{"domain":[{"year":2011,"month":4,"date":8,"utc":true},{"year":2015,"month":2,"date":18,"utc":true}],"nice":false},"axis":{"title":null}},
  "y":{"field":"h","type":"quantitative","title":null},
  "y2":{"datum":0},
  "detail":{"field":"s"},
  "color":{"condition":{"test":"datum.g == 'neg'","value":"#ff8080"},"value":"#7fe07f"}}},
{"data":{"name":"macd"},"mark":{"type":"line","strokeWidth":1.2,"interpolate":"monotone","clip":true},
 "encoding":{
  "x":{"field":"d","type":"temporal","title":null},
  "y":{"field":"v","type":"quantitative","title":null},
  "detail":{"field":"s"},
  "color":{"condition":{"test":"datum.k == 'sig'","value":"#ffa53a"},"value":"#3ee6ef"}}},
{"data":{"values":[{"t":"macd(12, 26, 9)"}]},"mark":{"type":"text","align":"left","baseline":"top","dx":3,"dy":1,"fontSize":7,"color":"#000000"},
 "encoding":{
  "x":{"datum":{"year":2011,"month":4,"date":8,"utc":true},"type":"temporal"},
  "y":{"datum":16.25,"type":"quantitative"},
  "text":{"field":"t"}}},
{"data":{"values":[{"t":"1,3333","v":0.75,"k":"macd"},{"t":"3,8531","v":4.4,"k":"sig"}]},"mark":{"type":"tick","orient":"horizontal","size":25,"thickness":9,"opacity":1},
 "encoding":{
  "x":{"datum":{"year":2015,"month":4,"date":1,"utc":true},"type":"temporal"},
  "y":{"field":"v","type":"quantitative","title":null},
  "color":{"condition":{"test":"datum.k == 'sig'","value":"#ffa030"},"value":"#30e0e8"}}},
{"data":{"values":[{"t":"1,3333","v":0.75,"k":"macd"},{"t":"3,8531","v":4.4,"k":"sig"}]},"mark":{"type":"text","align":"center","baseline":"middle","fontSize":7.5},
 "encoding":{
  "x":{"datum":{"year":2015,"month":4,"date":1,"utc":true},"type":"temporal"},
  "y":{"field":"v","type":"quantitative","title":null},
  "text":{"field":"t"},
  "color":{"condition":{"test":"datum.k == 'sig'","value":"#000000"},"value":"#1040a0"}}}
]
},
{
"width":417,"height":41,
"layer":[
{"data":{"values":[{}]},"mark":{"type":"rect","color":"#a8f0a8"},
 "encoding":{
  "y":{"datum":70,"type":"quantitative","scale":{"domain":[25,107],"nice":false,"zero":false},
   "axis":{"orient":"right","title":null,"values":[30,40,50,60,70,80,90,100],"labelExpr":"datum.value == 80 ? '80,0000' : ''","domainColor":"#f0c860","tickColor":"#404040","tickSize":3,"labelFontSize":10,"labelColor":"#000000","labelPadding":1,"grid":false,"labelOverlap":false}},
  "y2":{"datum":87}}},
{"data":{"values":[{}]},"mark":{"type":"rect","color":"#ffb3b3"},
 "encoding":{
  "y":{"datum":25,"type":"quantitative"},
  "y2":{"datum":30}}},
{"data":{"name":"rsi"},"mark":{"type":"line","color":"#202020","strokeWidth":1},
 "encoding":{
  "x":{"field":"d","type":"temporal","scale":{"domain":[{"year":2011,"month":4,"date":8,"utc":true},{"year":2015,"month":2,"date":18,"utc":true}],"nice":false},
   "axis":{"title":null,"labels":false,"ticks":true,"tickSize":3,"tickColor":"#000000",
    "values":[{"year":2011,"month":8,"date":1,"utc":true},{"year":2011,"month":10,"date":1,"utc":true},{"year":2012,"month":1,"date":1,"utc":true},{"year":2012,"month":3,"date":1,"utc":true},{"year":2012,"month":5,"date":1,"utc":true},{"year":2012,"month":7,"date":1,"utc":true},{"year":2012,"month":9,"date":1,"utc":true},{"year":2013,"month":1,"date":1,"utc":true},{"year":2013,"month":3,"date":1,"utc":true},{"year":2013,"month":5,"date":1,"utc":true},{"year":2013,"month":7,"date":1,"utc":true},{"year":2013,"month":9,"date":1,"utc":true},{"year":2014,"month":1,"date":1,"utc":true},{"year":2014,"month":3,"date":1,"utc":true},{"year":2014,"month":6,"date":1,"utc":true},{"year":2014,"month":8,"date":1,"utc":true},{"year":2014,"month":10,"date":1,"utc":true},{"year":2015,"month":1,"date":1,"utc":true}],
    "domainColor":"#000000","domainWidth":2}},
  "y":{"field":"r","type":"quantitative","title":null}}},
{"data":{"name":"xmonths"},"mark":{"type":"text","align":"center","baseline":"middle","dy":9,"fontSize":9,"color":"#000000"},
 "encoding":{
  "x":{"field":"d","type":"temporal","title":null},
  "y":{"datum":25,"type":"quantitative"},
  "text":{"field":"t"}}},
{"data":{"name":"xyears"},"mark":{"type":"text","align":"center","baseline":"middle","dy":9,"fontSize":9,"fontWeight":"bold","color":"#000000"},
 "encoding":{
  "x":{"field":"d","type":"temporal","title":null},
  "y":{"datum":25,"type":"quantitative"},
  "text":{"field":"t"}}},
{"data":{"values":[{"t":"'11"}]},"mark":{"type":"text","align":"left","baseline":"middle","dy":9,"dx":0,"fontSize":9,"fontWeight":"bold","color":"#000000"},
 "encoding":{
  "x":{"datum":{"year":2011,"month":4,"date":8,"utc":true},"type":"temporal"},
  "y":{"datum":25,"type":"quantitative"},
  "text":{"field":"t"}}},
{"data":{"values":[{"t":"rsi(14, 70, 30, 1)"}]},"mark":{"type":"text","align":"left","baseline":"top","dx":3,"dy":1,"fontSize":7,"color":"#000000"},
 "encoding":{
  "x":{"datum":{"year":2011,"month":4,"date":8,"utc":true},"type":"temporal"},
  "y":{"datum":107,"type":"quantitative"},
  "text":{"field":"t"}}},
{"data":{"values":[{"t":"44,8453"}]},"mark":{"type":"tick","orient":"horizontal","size":29,"thickness":10,"color":"#000000","opacity":1},
 "encoding":{
  "x":{"datum":{"year":2015,"month":4,"date":8,"utc":true},"type":"temporal"},
  "y":{"datum":43,"type":"quantitative"}}},
{"data":{"values":[{"t":"44,8453"}]},"mark":{"type":"text","align":"center","baseline":"middle","fontSize":7.5,"color":"#ffffff"},
 "encoding":{
  "x":{"datum":{"year":2015,"month":4,"date":8,"utc":true},"type":"temporal"},
  "y":{"datum":43,"type":"quantitative"},
  "text":{"field":"t"}}}
]
}
]
}
